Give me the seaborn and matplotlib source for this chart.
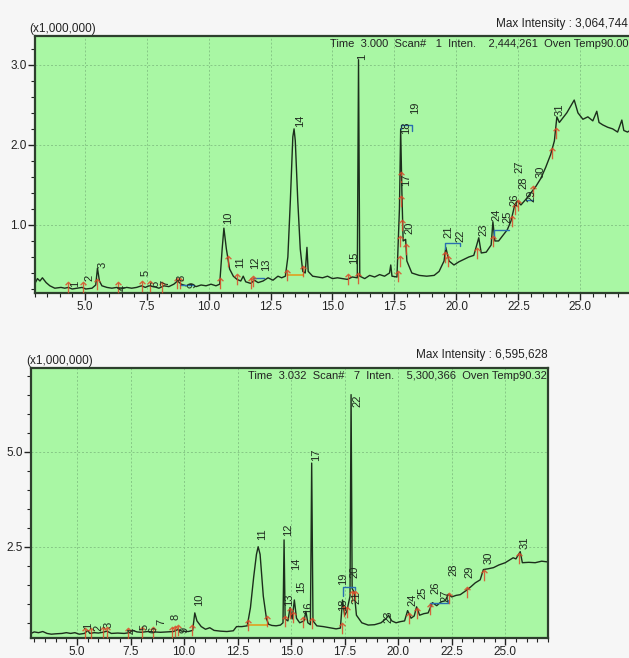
import matplotlib
matplotlib.use('Agg')
import matplotlib.pyplot as plt
import seaborn as sns
import pandas as pd
from matplotlib.ticker import MultipleLocator, FormatStrFormatter

# ---- run 1 (upper chromatogram), intensity in x1,000,000 ----
top_time = [3.0, 3.1, 3.2, 3.3, 3.45, 3.6, 3.8, 4.05, 4.2, 4.35, 4.5, 4.7, 4.9, 5.05, 5.3, 5.45,
            5.52, 5.6, 5.7, 5.9, 6.1, 6.3, 6.45, 6.7, 6.9, 7.1, 7.3, 7.45, 7.6, 7.8, 8.0, 8.2,
            8.4, 8.6, 8.75, 8.9, 9.1, 9.3, 9.5, 9.7, 9.9, 10.1, 10.3, 10.45, 10.55, 10.62, 10.72,
            10.85, 11.0, 11.15, 11.3, 11.4, 11.5, 11.7, 11.85, 12.0, 12.2, 12.4, 12.6, 12.8, 12.95,
            13.1, 13.2, 13.3, 13.4, 13.45, 13.5, 13.6, 13.7, 13.8, 13.9, 13.97, 14.02, 14.2, 14.4,
            14.6, 14.8, 15.0, 15.2, 15.4, 15.6, 15.8, 16.0, 16.05, 16.1, 16.3, 16.5, 16.7, 16.9,
            17.1, 17.3, 17.35, 17.4, 17.6, 17.7, 17.75, 17.8, 17.85, 17.95, 18.0, 18.2, 18.5, 18.8,
            19.1, 19.3, 19.5, 19.57, 19.7, 19.9, 20.1, 20.3, 20.5, 20.7, 20.9, 21.0, 21.2, 21.4,
            21.47, 21.55, 21.7, 21.9, 22.05, 22.2, 22.35, 22.45, 22.6, 22.8, 23.0, 23.2, 23.4, 23.6,
            23.8, 23.95, 24.05, 24.15, 24.3, 24.45, 24.6, 24.75, 24.9, 25.1, 25.3, 25.5, 25.66,
            25.75, 25.9, 26.1, 26.3, 26.5, 26.67, 26.75, 26.9, 27.0]
top_inten = [0.27, 0.33, 0.30, 0.34, 0.28, 0.24, 0.21, 0.22, 0.21, 0.22, 0.20, 0.21, 0.22, 0.20, 0.21, 0.25,
             0.46, 0.30, 0.24, 0.22, 0.21, 0.22, 0.20, 0.22, 0.21, 0.22, 0.24, 0.22, 0.24, 0.23, 0.21, 0.24,
             0.23, 0.26, 0.30, 0.26, 0.24, 0.26, 0.23, 0.25, 0.24, 0.26, 0.24, 0.26, 0.70, 0.96, 0.70,
             0.45, 0.36, 0.32, 0.30, 0.36, 0.29, 0.27, 0.31, 0.28, 0.30, 0.34, 0.31, 0.36, 0.34,
             0.36, 0.60, 1.30, 2.10, 2.20, 2.05, 1.30, 0.70, 0.42, 0.40, 0.72, 0.42, 0.36, 0.35,
             0.34, 0.36, 0.33, 0.34, 0.33, 0.32, 0.35, 0.34, 3.06, 0.36, 0.33, 0.37, 0.35, 0.38,
             0.36, 0.40, 0.50, 0.36, 0.35, 1.20, 2.20, 1.40, 0.80, 0.82, 0.55, 0.40, 0.37, 0.36,
             0.37, 0.42, 0.55, 0.72, 0.55, 0.50, 0.54, 0.57, 0.60, 0.62, 0.84, 0.65, 0.66, 0.75,
             1.04, 0.80, 0.80, 0.88, 0.94, 1.05, 1.25, 1.30, 1.25, 1.32, 1.40, 1.48, 1.58, 1.72,
             1.88, 2.05, 2.35, 2.28, 2.34, 2.40, 2.48, 2.56, 2.40, 2.32, 2.35, 2.30, 2.42,
             2.28, 2.25, 2.22, 2.20, 2.16, 2.31, 2.18, 2.16, 2.18]

top_peak_ids = ['1', '2', '3', '4', '5', '6', '7', '8', '9', '10', '11', '12', '13', '14', '15', '1',
                '17', '18', '19', '20', '21', '22', '23', '24', '25', '26', '27', '28', '29', '30', '31']
top_label_time = [4.61, 5.18, 5.74, 6.55, 7.48, 7.84, 8.28, 8.93, 9.37, 10.78, 11.27, 11.87, 12.31,
                  13.69, 15.86, 16.19, 17.96, 17.96, 18.32, 18.12, 19.69, 20.18, 21.10, 21.62,
                  22.05, 22.35, 22.56, 22.72, 23.04, 23.40, 24.17]
top_label_inten = [0.27, 0.34, 0.50, 0.21, 0.40, 0.27, 0.27, 0.34, 0.25, 1.09, 0.53, 0.53, 0.50,
                   2.30, 0.59, 3.10, 1.56, 2.21, 2.46, 0.96, 0.91, 0.86, 0.94, 1.13,
                   1.10, 1.31, 1.73, 1.53, 1.36, 1.66, 2.44]

top_mark_time = [4.33, 4.94, 5.50, 6.35, 7.31, 7.64, 8.12, 8.73, 8.85, 10.46, 10.78, 11.15, 11.71,
                 11.79, 13.16, 13.81, 15.62, 16.02, 17.64, 17.72, 17.74, 17.76, 17.78, 17.80, 17.96,
                 19.53, 19.65, 20.82, 21.47, 22.23, 22.35, 22.48, 23.08, 23.85, 24.02]
top_mark_inten = [0.22, 0.22, 0.26, 0.22, 0.24, 0.24, 0.23, 0.28, 0.27, 0.27, 0.55, 0.32, 0.28,
                  0.30, 0.38, 0.42, 0.32, 0.34, 0.36, 0.80, 0.55, 1.30, 1.60, 1.00, 0.70,
                  0.60, 0.55, 0.65, 0.80, 1.05, 1.20, 1.25, 1.42, 1.90, 2.15]

# ---- run 2 (lower chromatogram) ----
bot_time = [2.85, 3.0, 3.2, 3.4, 3.6, 3.8, 4.0, 4.3, 4.5, 4.7, 4.9, 5.1, 5.35, 5.5, 5.6, 5.8, 6.0,
            6.2, 6.4, 6.6, 6.9, 7.2, 7.45, 7.6, 7.8, 8.0, 8.3, 8.6, 8.9, 9.2, 9.5, 9.7, 9.9, 10.2,
            10.4, 10.5, 10.6, 10.8, 11.0, 11.2, 11.4, 11.7, 12.0, 12.3, 12.45, 12.7, 12.95, 13.1,
            13.25, 13.38, 13.46, 13.55, 13.7, 13.85, 13.95, 14.1, 14.3, 14.5, 14.62, 14.67, 14.72,
            14.85, 14.95, 15.05, 15.15, 15.25, 15.4, 15.6, 15.69, 15.78, 15.9, 15.96, 16.02, 16.2,
            16.5, 16.8, 17.1, 17.3, 17.4, 17.5, 17.6, 17.75, 17.8, 17.85, 17.95, 18.05, 18.3, 18.6,
            18.9, 19.2, 19.45, 19.55, 19.7, 19.9, 20.1, 20.3, 20.44, 20.6, 20.75, 20.86, 21.0, 21.2,
            21.4, 21.6, 21.8, 22.0, 22.2, 22.34, 22.5, 22.7, 22.9, 23.18, 23.4, 23.6, 23.83, 23.98,
            24.2, 24.45, 24.7, 25.0, 25.2, 25.37, 25.5, 25.7, 25.8, 26.1, 26.4, 26.7, 27.0]
bot_inten = [0.22, 0.26, 0.24, 0.27, 0.22, 0.20, 0.21, 0.22, 0.24, 0.22, 0.24, 0.20, 0.22, 0.30, 0.22,
             0.24, 0.23, 0.25, 0.28, 0.22, 0.23, 0.22, 0.24, 0.30, 0.26, 0.25, 0.27, 0.26, 0.25, 0.26,
             0.27, 0.32, 0.28, 0.27, 0.30, 0.76, 0.55, 0.40, 0.33, 0.37, 0.30, 0.28, 0.27, 0.29,
             0.40, 0.40, 0.42, 0.90, 1.70, 2.30, 2.50, 2.30, 1.20, 0.60, 0.46, 0.43, 0.42, 0.44,
             0.50, 2.68, 0.60, 0.55, 0.90, 0.60, 1.10, 0.62, 0.50, 0.55, 0.80, 0.50, 0.45, 4.70,
             0.55, 0.42, 0.40, 0.37, 0.34, 0.36, 1.10, 0.70, 0.80, 1.20, 6.50, 1.40, 1.30, 0.70,
             0.50, 0.44, 0.45, 0.50, 0.62, 0.70, 0.55, 0.50, 0.53, 0.55, 0.82, 0.62, 0.68, 0.92,
             0.70, 0.74, 0.76, 1.03, 0.95, 1.05, 1.08, 1.25, 1.18, 1.22, 1.24, 1.35, 1.45, 1.55,
             1.63, 1.90, 1.92, 1.95, 2.02, 2.08, 2.15, 2.21, 2.18, 2.37, 2.08, 2.09, 2.08, 2.12, 2.10]

bot_peak_ids = [str(i) for i in range(1, 32)]
bot_label_time = [5.51, 5.98, 6.45, 7.62, 8.15, 8.58, 8.95, 9.62, 10.02, 10.70, 13.64, 14.86, 14.92,
                  15.25, 15.45, 15.79, 16.17, 17.43, 17.42, 17.97, 18.05, 18.10, 19.53, 20.65,
                  21.12, 21.73, 22.20, 22.57, 23.32, 24.21, 25.89]
bot_label_inten = [0.42, 0.37, 0.45, 0.29, 0.39, 0.32, 0.53, 0.66, 0.32, 1.11, 2.82, 2.95, 1.10,
                   2.05, 1.45, 0.89, 4.92, 0.98, 1.65, 1.85, 1.15, 6.34, 0.66, 1.11,
                   1.29, 1.42, 1.20, 1.89, 1.84, 2.21, 2.60]

bot_mark_time = [5.37, 5.65, 6.21, 6.40, 7.38, 8.04, 8.55, 9.44, 9.58, 9.72, 10.37, 12.99, 13.88,
                 14.72, 14.95, 15.09, 15.56, 15.98, 17.36, 17.45, 17.60, 17.83, 17.97, 20.49, 20.86,
                 21.47, 22.36, 23.20, 23.99, 25.63]
bot_mark_inten = [0.24, 0.24, 0.25, 0.27, 0.24, 0.26, 0.26, 0.27, 0.28, 0.31, 0.30, 0.44, 0.55,
                  0.55, 0.75, 0.65, 0.52, 0.50, 0.36, 0.80, 0.78, 1.20, 1.20, 0.62, 0.75,
                  0.85, 1.15, 1.30, 1.75, 2.20]

top_header = 'Time  3.000  Scan#   1  Inten.    2,444,261  Oven Temp90.00'
bot_header = 'Time  3.032  Scan#   7  Inten.    5,300,366  Oven Temp90.32'
top_max = 'Max Intensity : 3,064,744'
bot_max = 'Max Intensity : 6,595,628'

sns.set_theme(style='ticks')
plt.rcParams['font.family'] = ['Liberation Sans Narrow', 'Liberation Sans', 'DejaVu Sans']

GREEN = '#a9f7a4'
TRACE = '#1c2e1c'
MARK = '#dc4a28'

fig = plt.figure(figsize=(6.29, 6.58), dpi=100, facecolor='#f6f6f6')
ax1 = fig.add_axes([0.0556, 0.5547, 0.9460, 0.3906])
ax2 = fig.add_axes([0.0493, 0.0304, 0.8220, 0.4103])


def style_axes(ax, xlim, ylim, ymajor, yminor):
    ax.set_facecolor(GREEN)
    ax.set_xlim(*xlim)
    ax.set_ylim(*ylim)
    ax.xaxis.set_major_locator(MultipleLocator(2.5))
    ax.xaxis.set_minor_locator(MultipleLocator(0.5))
    ax.yaxis.set_major_locator(MultipleLocator(ymajor))
    ax.yaxis.set_minor_locator(MultipleLocator(yminor))
    ax.xaxis.set_major_formatter(FormatStrFormatter('%.1f'))
    ax.yaxis.set_major_formatter(FormatStrFormatter('%.1f'))
    ax.grid(True, which='major', color='#86c886', linestyle=(0, (2, 2)), linewidth=0.7)
    ax.tick_params(which='major', direction='out', length=5, width=1, labelsize=8.5, colors='#222222', pad=1)
    ax.tick_params(which='minor', direction='out', length=3, width=0.8, colors='#222222')
    for sp in ax.spines.values():
        sp.set_color('#2d3f2d')
        sp.set_linewidth(1.6)
    ax.set_xlabel('')
    ax.set_ylabel('')


def draw_run(ax, t, y, ids, lt, ly, mt, my):
    sns.lineplot(x=t, y=y, ax=ax, color=TRACE, linewidth=1.0, estimator=None, sort=False)
    sns.scatterplot(x=mt, y=my, ax=ax, marker=r'$\uparrow$', s=70, color=MARK, linewidth=0,
                    alpha=0.85, zorder=4)
    for s, xx, yy in zip(ids, lt, ly):
        ax.text(xx, yy, s, rotation=90, ha='center', va='center', fontsize=8,
                color='#1e2a1e', zorder=5)


draw_run(ax1, top_time, top_inten, top_peak_ids, top_label_time, top_label_inten,
         top_mark_time, top_mark_inten)
style_axes(ax1, (3.0, 27.0), (0.15, 3.36), 1.0, 0.2)

draw_run(ax2, bot_time, bot_inten, bot_peak_ids, bot_label_time, bot_label_inten,
         bot_mark_time, bot_mark_inten)
style_axes(ax2, (2.85, 27.0), (0.10, 7.2), 2.5, 0.5)

# integration baselines / grouping brackets
ax1.plot([13.16, 13.81], [0.37, 0.37], color='#e0a020', lw=1.2)
ax2.plot([12.99, 13.88], [0.44, 0.44], color='#e0a020', lw=1.2)
ax1.plot([17.76, 17.76, 18.20, 18.20], [2.20, 2.25, 2.25, 2.17], color='#2a6fb0', lw=1.0)
ax1.plot([19.55, 19.55, 20.15, 20.15], [0.70, 0.78, 0.78, 0.74], color='#2a6fb0', lw=1.0)
ax1.plot([21.50, 21.50, 22.10], [0.85, 0.94, 0.94], color='#2a6fb0', lw=1.0)
ax1.plot([22.80, 23.10], [1.31, 1.31], color='#2a6fb0', lw=1.0)
ax1.plot([11.79, 12.25], [0.34, 0.34], color='#2a6fb0', lw=1.0)
ax1.plot([8.85, 9.40], [0.25, 0.25], color='#2a6fb0', lw=1.0)
ax2.plot([17.43, 17.43, 18.00, 18.00], [1.20, 1.45, 1.45, 1.35], color='#2a6fb0', lw=1.0)
ax2.plot([21.50, 21.50, 22.34, 22.34], [0.95, 1.03, 1.03, 1.10], color='#2a6fb0', lw=1.0)

# header texts
for ax, hdr in ((ax1, top_header), (ax2, bot_header)):
    ax.text(0.997, 0.99, hdr, transform=ax.transAxes, ha='right', va='top', fontsize=8,
            color='#222222', zorder=6)
ax1.text(-0.01, 1.005, '(x1,000,000)', transform=ax1.transAxes, ha='left', va='bottom',
         fontsize=8.5, color='#222222')
ax2.text(-0.01, 1.005, '(x1,000,000)', transform=ax2.transAxes, ha='left', va='bottom',
         fontsize=8.5, color='#222222')
fig.text(0.999, 0.955, top_max, ha='right', va='bottom', fontsize=8.5, color='#222222')
fig.text(0.871, 0.452, bot_max, ha='right', va='bottom', fontsize=8.5, color='#222222')

fig.savefig('out.png', dpi=100, facecolor=fig.get_facecolor())
